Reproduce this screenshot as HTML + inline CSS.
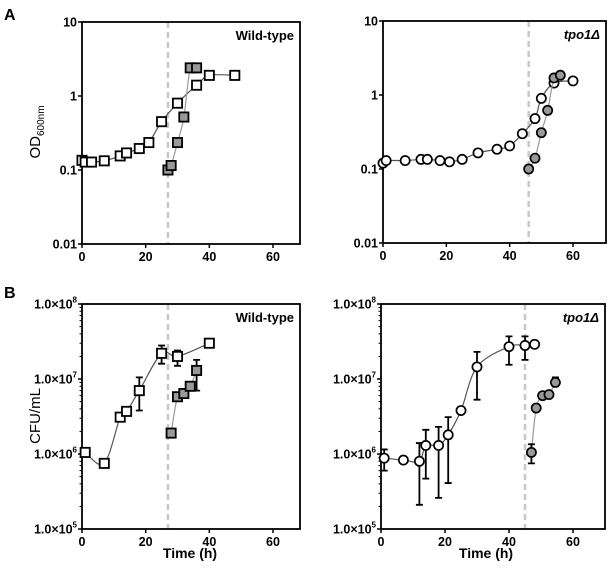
<!DOCTYPE html>
<html><head><meta charset="utf-8"><style>
body{margin:0;background:#fff;width:609px;height:568px;overflow:hidden}
svg text{font-family:"Liberation Sans",Arial,sans-serif;font-weight:bold}
</style></head><body>
<svg id="c" width="609" height="568" viewBox="0 0 609 568">
<text x="4" y="20" font-size="16">A</text>
<text x="4" y="298" font-size="16">B</text>
<text transform="translate(40,132) rotate(-90)" text-anchor="middle" font-size="15" style="font-weight:normal">OD<tspan font-size="10" dy="4">600nm</tspan></text>
<text transform="translate(40,416) rotate(-90)" text-anchor="middle" font-size="15" style="font-weight:normal">CFU/mL</text>
<text x="190" y="558" text-anchor="middle" font-size="14">Time (h)</text>
<text x="486" y="558" text-anchor="middle" font-size="14">Time (h)</text>
</svg>
<script>
// Panel A wild-type
const aWtOpenX=[0,1,3,7,12,14,18,21,25,30,36,40,48];
const aWtOpenY=[0.135,0.128,0.128,0.133,0.155,0.17,0.195,0.235,0.45,0.8,1.4,1.9,1.9];
const aWtGrayX=[27,28,30,32,34,36];
const aWtGrayY=[0.1,0.115,0.235,0.52,2.4,2.4];
// Panel A tpo1
const aTpOpenX=[0,1,7,12,14,18,21,25,30,36,40,44,48,50,54,60];
const aTpOpenY=[0.12,0.13,0.13,0.135,0.135,0.13,0.125,0.135,0.165,0.185,0.205,0.3,0.48,0.9,1.45,1.55];
const aTpGrayX=[46,48,50,52,54,56];
const aTpGrayY=[0.1,0.14,0.31,0.62,1.7,1.85];
// Panel B wild-type
const bWtOpenX=[1,7,12,14,18,25,30,40];
const bWtOpenY=[1.05e6,7.5e5,3.1e6,3.7e6,7e6,2.2e7,2e7,3e7];
const bWtOpenLo=[null,null,null,null,3.8e6,1.6e7,1.5e7,null];
const bWtOpenHi=[null,null,null,null,1.05e7,2.8e7,2.4e7,null];
const bWtGrayX=[28,30,32,34,36];
const bWtGrayY=[1.9e6,5.8e6,6.4e6,8e6,1.3e7];
const bWtGrayLo=[1.7e6,null,null,null,7e6];
const bWtGrayHi=[2e6,null,null,null,1.8e7];
// Panel B tpo1
const bTpOpenX=[1,7,12,14,18,21,25,30,40,45,48];
const bTpOpenY=[8.8e5,8.3e5,8e5,1.3e6,1.3e6,1.8e6,3.8e6,1.45e7,2.7e7,2.8e7,2.9e7];
const bTpOpenLo=[6e5,null,2.1e5,4.7e5,2.6e5,4.1e5,null,5.3e6,1.55e7,1.8e7,null];
const bTpOpenHi=[1.15e6,null,1.4e6,2.1e6,2.3e6,3.1e6,null,2.3e7,3.7e7,3.7e7,null];
const bTpGrayX=[47,48.5,50.5,52.5,54.5];
const bTpGrayY=[1.05e6,4.1e6,6e6,6.2e6,9e6];
const bTpGrayLo=[7.5e5,null,null,null,8e6];
const bTpGrayHi=[1.35e6,null,null,null,1.05e7];
const xTicks=[0,20,40,60];
const aYTicks=[0.01,0.1,1,10];
const aYLabels=["0.01","0.1","1","10"];
const bYTicks=[1e5,1e6,1e7,1e8];
const bYExp=["5","6","7","8"];
const dashes=[27,46,27,45];

const NS="http://www.w3.org/2000/svg";
const svg=document.getElementById('c');
function mk(t,a,p){const e=document.createElementNS(NS,t);for(const k in a)e.setAttribute(k,a[k]);(p||svg).appendChild(e);return e;}

function panel(o){
  const g=mk('g',{});
  
  
  const sx=v=>o.x0+(v)*o.pxu;
  const sy=v=>o.yTop+(Math.log10(o.ymax)-Math.log10(v))*o.dec;
  const yb=sy(o.ymin);
  const dl=mk('line',{x1:sx(o.dash),x2:sx(o.dash),y1:o.yTop,y2:yb,stroke:'#c8c8c8','stroke-width':2.5,'stroke-dasharray':'6,4'},g);
  
  
  const fr=mk('rect',{x:o.x0,y:o.yTop,width:o.xr-o.x0,height:yb-o.yTop,fill:'none',stroke:'#000','stroke-width':1.8},g);
  
  
  xTicks.forEach(t=>{
    mk('line',{x1:sx(t),x2:sx(t),y1:yb,y2:yb+4,stroke:'#000','stroke-width':1.5},g);
    const tx=mk('text',{x:sx(t),y:yb+17,'text-anchor':'middle','font-size':12.5},g);
    tx.textContent=t;
    
    
  });
  o.yt.forEach((t,i)=>{
    mk('line',{x1:o.x0-4,x2:o.x0,y1:sy(t),y2:sy(t),stroke:'#000','stroke-width':1.5},g);
    const tx=mk('text',{x:o.x0-5,y:sy(t)+4.5,'text-anchor':'end','font-size':12.5},g);
    if(o.cfu){tx.innerHTML='1.0\u00d710<tspan font-size="8" dy="-6">'+bYExp[i]+'</tspan>';}
    else tx.textContent=aYLabels[i];
    
    
    if(o.cfu&&i<o.yt.length-1){for(let m=2;m<10;m++)mk('line',{x1:o.x0-2.5,x2:o.x0,y1:sy(t*m),y2:sy(t*m),stroke:'#000','stroke-width':1},g);}
  });
  const lt=mk('text',{x:o.xr-6,y:o.yTop+18,'text-anchor':'end','font-size':13,'font-style':o.ital?'italic':'normal'},g);
  lt.textContent=o.label;
  
  
  o.series.forEach(s=>{
    const pts=s.x.map((v,i)=>[sx(v),sy(s.y[i])]);
    let d='M'+pts[0][0]+','+pts[0][1];
    for(let i=0;i<pts.length-1;i++){
      const p0=pts[Math.max(0,i-1)],p1=pts[i],p2=pts[i+1],p3=pts[Math.min(pts.length-1,i+2)];
      const c1=[p1[0]+(p2[0]-p0[0])/6,p1[1]+(p2[1]-p0[1])/6];
      const c2=[p2[0]-(p3[0]-p1[0])/6,p2[1]-(p3[1]-p1[1])/6];
      d+=' C'+c1+' '+c2+' '+p2;
    }
    const ln=mk('path',{d:d,fill:'none',stroke:s.gray?'#999':'#555','stroke-width':1.2},g);
    
    
    if(s.lo)s.x.forEach((v,i)=>{
      if(s.lo[i]==null)return;
      const X=sx(v);
      const eb=mk('path',{d:`M${X},${sy(s.lo[i])}V${sy(s.hi[i])}M${X-3.5},${sy(s.lo[i])}h7M${X-3.5},${sy(s.hi[i])}h7`,stroke:'#000','stroke-width':1.8,fill:'none'},g);
      
      
    });
    pts.forEach(p=>{
      let m;
      if(o.circle)m=mk('circle',{cx:p[0],cy:p[1],r:4.6,fill:s.gray?'#999':'#fff',stroke:'#000','stroke-width':1.7},g);
      else m=mk('rect',{x:p[0]-4.6,y:p[1]-4.6,width:9.2,height:9.2,fill:s.gray?'#999':'#fff',stroke:'#000','stroke-width':1.8},g);
      
      
    });
  });
}
const pxuL=(273-82)/60, pxuR=(573-383)/60;
panel({name:'panel-a-wild-type',x0:82,xr:300,pxu:pxuL,yTop:22,dec:74,ymax:10,ymin:0.01,yt:aYTicks,dash:dashes[0],label:'Wild-type',
  series:[{x:aWtOpenX,y:aWtOpenY},{x:aWtGrayX,y:aWtGrayY,gray:1}]});
panel({name:'panel-a-tpo1',x0:383,xr:606,pxu:pxuR,yTop:21,dec:74,ymax:10,ymin:0.01,yt:aYTicks,dash:dashes[1],label:'tpo1\u0394',ital:1,circle:1,
  series:[{x:aTpOpenX,y:aTpOpenY},{x:aTpGrayX,y:aTpGrayY,gray:1}]});
panel({name:'panel-b-wild-type',x0:82,xr:300,pxu:pxuL,yTop:304,dec:75,ymax:1e8,ymin:1e5,yt:bYTicks,cfu:1,dash:dashes[2],label:'Wild-type',
  series:[{x:bWtOpenX,y:bWtOpenY,lo:bWtOpenLo,hi:bWtOpenHi},{x:bWtGrayX,y:bWtGrayY,lo:bWtGrayLo,hi:bWtGrayHi,gray:1}]});
panel({name:'panel-b-tpo1',x0:381,xr:605,pxu:(573-381)/60,yTop:304,dec:75,ymax:1e8,ymin:1e5,yt:bYTicks,cfu:1,dash:dashes[3],label:'tpo1\u0394',ital:1,circle:1,
  series:[{x:bTpOpenX,y:bTpOpenY,lo:bTpOpenLo,hi:bTpOpenHi},{x:bTpGrayX,y:bTpGrayY,lo:bTpGrayLo,hi:bTpGrayHi,gray:1}]});
</script>
</body></html>
